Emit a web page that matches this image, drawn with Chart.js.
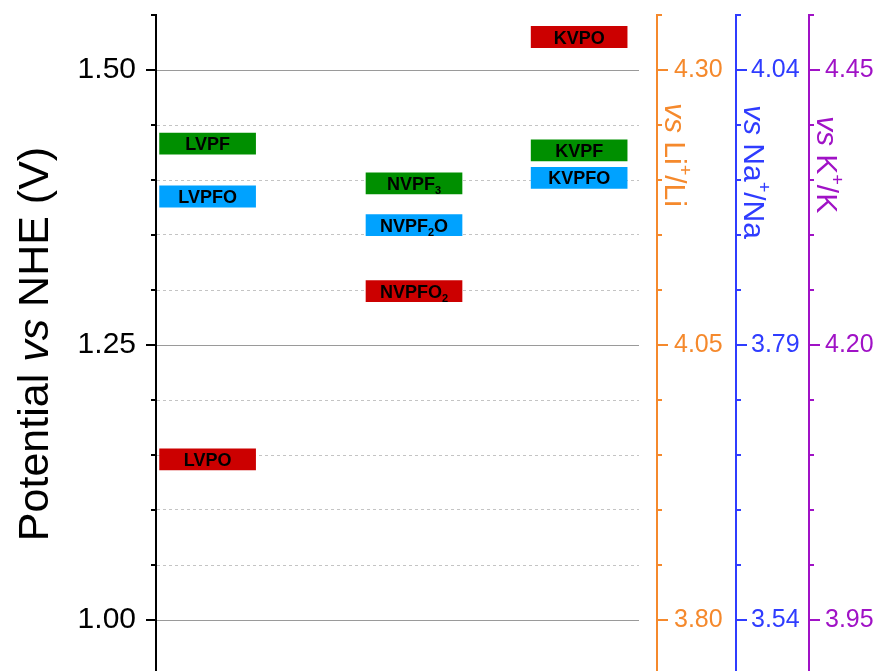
<!DOCTYPE html>
<html>
<head>
<meta charset="utf-8">
<script src="https://cdn.jsdelivr.net/npm/chart.js@4.4.1/dist/chart.umd.min.js"></script>
<style>
  html, body { margin: 0; padding: 0; background: #fff; overflow: hidden; }
  #wrap { width: 875px; height: 671px; overflow: hidden; position: relative; }
  canvas { display: block; }
</style>
</head>
<body>
<div id="wrap"><canvas id="chart" width="875" height="680"></canvas></div>
<script>
// Redox potentials of vanadium phosphate cathodes, referenced to NHE.
// Columns: Li-, Na- and K-based compounds.
const families = ['LVP', 'NVP', 'KVP'];
const familyX = [1, 2, 2.8];

// "_" marks the next character as a subscript in the bar labels.
const fluorideNames = ['LVPF', 'NVPF_3', 'KVPF'];
const fluorideValues = [1.433, 1.397, 1.427];

const oxyfluorideNames = ['LVPFO', 'NVPF_2O', 'KVPFO'];
const oxyfluorideValues = [1.385, 1.359, 1.402];

const oxideNames = ['LVPO', 'NVPFO_2', 'KVPO'];
const oxideValues = [1.146, 1.299, 1.530];

// Axis range and labelled ticks on the NHE scale (V).
const nheMin = 0.95;
const nheMax = 1.55;
const nheStep = 0.05;
const nheMajorTicks = [1.00, 1.25, 1.50];

// Offsets of the alkali reference electrodes relative to NHE (V).
const liOffset = 2.80;
const naOffset = 2.54;
const kOffset = 2.95;

const FONT = 'Arial, "Liberation Sans", Helvetica, sans-serif';
const ORANGE = '#F5892C';
const BLUE = '#2F3CFF';
const PURPLE = '#A012C6';
const BAR_HALF = 0.0096;   // half height of each level bar, in volts

Chart.defaults.font.family = FONT;

const nheTicks = [];
for (let i = 0; Math.round((nheMin + i * nheStep) * 100) <= Math.round(nheMax * 100); i++) {
  nheTicks.push(+(nheMin + i * nheStep).toFixed(2));
}

function isMajor(value, offset) {
  return nheMajorTicks.some(m => Math.abs(m + offset - value) < 1e-6);
}

function buildTicks(offset) {
  return scale => {
    scale.ticks = nheTicks.map(v => ({ value: +(v + offset).toFixed(2) }));
  };
}

function fixWidth(w) {
  return scale => {
    scale.width = w;
    scale.paddingTop = 0;
    scale.paddingBottom = 0;
  };
}

function barData(values) {
  return values.map((v, i) => ({ x: familyX[i], y: [v - BAR_HALF, v + BAR_HALF] }));
}

function parseRich(label) {
  const segs = [];
  let buf = '';
  for (let i = 0; i < label.length; i++) {
    if (label[i] === '_' && i + 1 < label.length) {
      if (buf) { segs.push({ t: buf }); buf = ''; }
      segs.push({ t: label[i + 1], sub: true });
      i++;
    } else {
      buf += label[i];
    }
  }
  if (buf) segs.push({ t: buf });
  return segs;
}

// Draws a run of text segments (normal / italic / sub / super) starting at x, baseline y.
function runWidth(ctx, segs) {
  let w = 0;
  for (const s of segs) { ctx.font = s.font; w += ctx.measureText(s.t).width; }
  return w;
}
function drawRun(ctx, segs, x, y) {
  for (const s of segs) {
    ctx.font = s.font;
    ctx.fillText(s.t, x, y + (s.dy || 0));
    x += ctx.measureText(s.t).width;
  }
}

function rightTitle(text, size) {
  // text like "Li": renders  vs Li⁺/Li
  return [
    { t: 'vs', font: `italic ${size}px ${FONT}` },
    { t: ' ' + text, font: `${size}px ${FONT}` },
    { t: '+', font: `${Math.round(size * 0.6)}px ${FONT}`, dy: -Math.round(size * 0.45) },
    { t: '/' + text, font: `${size}px ${FONT}` }
  ];
}

const barLabelPlugin = {
  id: 'barLabels',
  afterDatasetsDraw(chart) {
    const ctx = chart.ctx;
    ctx.save();
    ctx.fillStyle = '#000';
    ctx.textBaseline = 'alphabetic';
    ctx.textAlign = 'left';
    chart.data.datasets.forEach((ds, di) => {
      const meta = chart.getDatasetMeta(di);
      meta.data.forEach((el, j) => {
        const segs = parseRich(ds.names[j]).map(s => s.sub
          ? { t: s.t, font: `bold 11px ${FONT}`, dy: 4 }
          : { t: s.t, font: `bold 18px ${FONT}` });
        const cx = el.x;
        const cy = (el.y + el.base) / 2;
        const w = runWidth(ctx, segs);
        drawRun(ctx, segs, cx - w / 2, cy + 6.5);
      });
    });
    ctx.restore();
  }
};

const axisDecorPlugin = {
  id: 'axisDecor',
  afterDraw(chart) {
    const ctx = chart.ctx;
    const axes = [
      { id: 'y', offset: 0, color: '#000', dir: -1, major: 10 },
      { id: 'li', offset: liOffset, color: ORANGE, dir: 1, major: 11 },
      { id: 'na', offset: naOffset, color: BLUE, dir: 1, major: 11 },
      { id: 'k', offset: kOffset, color: PURPLE, dir: 1, major: 11 }
    ];
    ctx.save();
    ctx.lineWidth = 2;
    for (const a of axes) {
      const s = chart.scales[a.id];
      const x0 = a.dir < 0 ? s.right : s.left;
      ctx.strokeStyle = a.color;
      for (const t of s.ticks) {
        const y = Math.round(s.getPixelForValue(t.value));
        const len = isMajor(t.value, a.offset) ? a.major : 5;
        ctx.beginPath();
        ctx.moveTo(x0, y);
        ctx.lineTo(x0 + a.dir * len, y);
        ctx.stroke();
      }
    }
    ctx.restore();

    // Axis titles
    const area = chart.chartArea;
    ctx.save();
    ctx.fillStyle = '#000';
    ctx.textBaseline = 'alphabetic';
    ctx.textAlign = 'left';
    const left = [
      { t: 'Potential ', font: `43px ${FONT}` },
      { t: 'vs', font: `italic 43px ${FONT}` },
      { t: ' NHE (V)', font: `43px ${FONT}` }
    ];
    ctx.translate(48, (area.top + area.bottom) / 2 - 1);
    ctx.rotate(-Math.PI / 2);
    drawRun(ctx, left, -runWidth(ctx, left) / 2, 0);
    ctx.restore();

    const rights = [
      { id: 'li', text: 'Li', color: ORANGE, top: 103 },
      { id: 'na', text: 'Na', color: BLUE, top: 105 },
      { id: 'k', text: 'K', color: PURPLE, top: 116 }
    ];
    for (const r of rights) {
      const s = chart.scales[r.id];
      ctx.save();
      ctx.fillStyle = r.color;
      ctx.textBaseline = 'alphabetic';
      ctx.textAlign = 'left';
      ctx.translate(s.left + 8, r.top);
      ctx.rotate(Math.PI / 2);
      drawRun(ctx, rightTitle(r.text, 30), 0, 0);
      ctx.restore();
    }
  }
};

function rightAxis(offset, color, width, pad) {
  return {
    type: 'linear',
    position: 'right',
    min: +(nheMin + offset).toFixed(2),
    max: +(nheMax + offset).toFixed(2),
    afterBuildTicks: buildTicks(offset),
    afterFit: fixWidth(width),
    ticks: {
      autoSkip: false,
      padding: pad,
      color: color,
      font: { size: 25, family: FONT },
      callback: v => isMajor(v, offset) ? v.toFixed(2) : ''
    },
    grid: { drawOnChartArea: false, drawTicks: false },
    border: { display: true, color: color, width: 2 }
  };
}

new Chart(document.getElementById('chart'), {
  type: 'bar',
  data: {
    datasets: [
      { label: 'fluoride', names: fluorideNames, data: barData(fluorideValues),
        backgroundColor: '#008F00', barThickness: 96, grouped: false, borderWidth: 0 },
      { label: 'oxyfluoride', names: oxyfluorideNames, data: barData(oxyfluorideValues),
        backgroundColor: '#00A2FF', barThickness: 96, grouped: false, borderWidth: 0 },
      { label: 'oxide', names: oxideNames, data: barData(oxideValues),
        backgroundColor: '#CC0000', barThickness: 96, grouped: false, borderWidth: 0 }
    ]
  },
  options: {
    responsive: false,
    animation: false,
    devicePixelRatio: 1,
    layout: { padding: { top: 15, bottom: 5, left: 0, right: 0 } },
    plugins: { legend: { display: false }, tooltip: { enabled: false } },
    scales: {
      x: { type: 'linear', min: 0.75, max: 3.09, offset: false, display: false },
      y: {
        type: 'linear',
        position: 'left',
        min: nheMin,
        max: nheMax,
        beginAtZero: false,
        afterBuildTicks: buildTicks(0),
        afterFit: fixWidth(156),
        ticks: {
          autoSkip: false,
          padding: 20,
          color: '#000',
          font: { size: 30, family: FONT },
          callback: v => isMajor(v, 0) ? v.toFixed(2) : ''
        },
        grid: {
          drawTicks: false,
          lineWidth: 1,
          color: c => {
            if (!c.tick) return 'rgba(0,0,0,0)';
            const v = c.tick.value;
            if (Math.abs(v - nheMax) < 1e-6) return 'rgba(0,0,0,0)';
            return isMajor(v, 0) ? '#9a9a9a' : '#c4c4c4';
          },
          borderDash: c => (c.tick && !isMajor(c.tick.value, 0)) ? [3, 3] : []
        },
        border: {
          display: true,
          color: '#000',
          width: 2,
          dash: c => (c.tick && !isMajor(c.tick.value, 0)) ? [3, 3] : []
        }
      },
      gap: {
        type: 'linear',
        position: 'right',
        min: 0,
        max: 1,
        afterFit: fixWidth(18),
        ticks: { display: false },
        grid: { display: false, drawTicks: false },
        border: { display: false }
      },
      li: rightAxis(liOffset, ORANGE, 79, 17),
      na: rightAxis(naOffset, BLUE, 73, 15),
      k: rightAxis(kOffset, PURPLE, 66, 16)
    }
  },
  plugins: [barLabelPlugin, axisDecorPlugin]
});
</script>
</body>
</html>
